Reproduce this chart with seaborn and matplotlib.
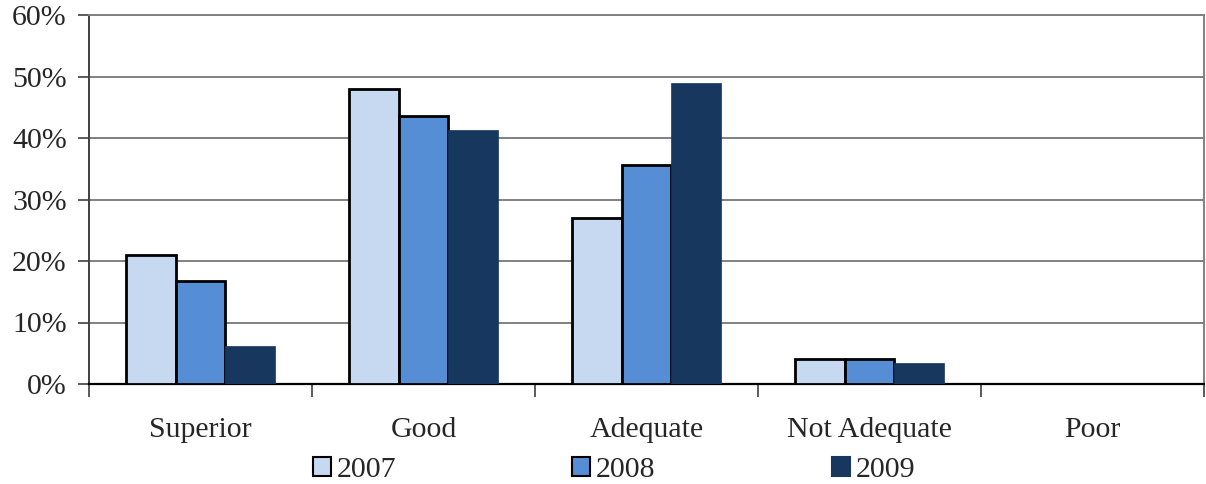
import matplotlib
matplotlib.use("Agg")
import matplotlib.pyplot as plt
from matplotlib.patches import Patch
from matplotlib.ticker import FixedLocator, PercentFormatter
import seaborn as sns
import pandas as pd

categories = ["Superior", "Good", "Adequate", "Not Adequate", "Poor"]
years = ["2007", "2008", "2009"]
share_2007 = [21.0, 48.0, 27.0, 4.1, 0.0]
share_2008 = [16.7, 43.6, 35.6, 4.1, 0.0]
share_2009 = [6.2, 41.3, 48.9, 3.4, 0.0]

colors = {"2007": "#C6D9F1", "2008": "#558ED5", "2009": "#17375E"}
edges = {"2007": "black", "2008": "black", "2009": "none"}

df = pd.DataFrame({
    "category": categories * 3,
    "year": [y for y in years for _ in categories],
    "share": share_2007 + share_2008 + share_2009,
})

sns.set_style("white")
plt.rcParams["font.family"] = ["Liberation Serif", "DejaVu Serif"]

FS = 21.5

fig = plt.figure(figsize=(12.06, 4.84), dpi=100)
ax = fig.add_axes([89 / 1206, 1 - 384 / 484, (1204 - 89) / 1206, (384 - 15) / 484])

sns.barplot(data=df, x="category", y="share", hue="year", order=categories,
            hue_order=years, palette=colors, width=0.67, gap=0,
            saturation=1, legend=False, ax=ax, zorder=3)

# outline the first two series, leave the last one plain
for container, yr in zip(ax.containers, years):
    for bar in container:
        if edges[yr] == "none":
            bar.set_edgecolor(colors[yr])
            bar.set_linewidth(0.5)
        else:
            bar.set_edgecolor("black")
            bar.set_linewidth(2.0)

ax.set_ylim(0, 60)
ax.set_xlim(-0.5, 4.5)
ax.set_yticks(range(0, 61, 10))
ax.yaxis.set_major_formatter(PercentFormatter(decimals=0))
ax.yaxis.grid(True, color="#808080", linewidth=1.4, zorder=0)
ax.set_axisbelow(True)
ax.set_xlabel("")
ax.set_ylabel("")

ax.xaxis.set_minor_locator(FixedLocator([i - 0.5 for i in range(6)]))
ax.tick_params(axis="x", which="major", length=0, pad=23.5, labelsize=FS)
ax.tick_params(axis="x", which="minor", length=9, width=1.2, color="#404040",
               direction="out", bottom=True)
ax.tick_params(axis="y", which="major", length=8, width=1.2, color="#404040",
               direction="out", left=True, labelsize=FS, pad=8)

for side in ["top", "right"]:
    ax.spines[side].set_color("#808080")
    ax.spines[side].set_linewidth(1.4)
ax.spines["left"].set_color("#404040")
ax.spines["left"].set_linewidth(1.4)
ax.spines["bottom"].set_color("black")
ax.spines["bottom"].set_linewidth(1.6)

handles = [Patch(facecolor=colors[y], edgecolor=edges[y] if edges[y] != "none" else colors[y],
                 linewidth=1.5) for y in years]
fig.legend(handles, years, loc="center", bbox_to_anchor=(614 / 1206, 1 - 470 / 484),
           ncol=3, frameon=False, fontsize=FS, handlelength=0.6, handleheight=0.6,
           handletextpad=0.2, columnspacing=5.9, borderpad=0)

fig.savefig("out.png", dpi=100)
